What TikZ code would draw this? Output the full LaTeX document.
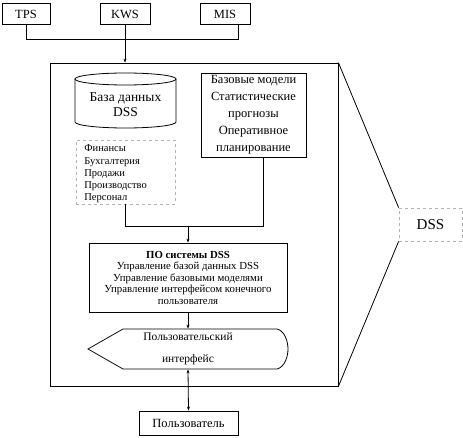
\documentclass[tikz,border=0pt]{standalone}
\usepackage{fontspec}
\setmainfont{Liberation Serif}
\usetikzlibrary{arrows.meta,calc}
\begin{document}
\begin{tikzpicture}[x=1pt,y=1pt,line width=0.8pt,
  box/.style={draw,rectangle,inner sep=0pt,align=center},
  dbox/.style={draw=gray!60,dashed,rectangle,inner sep=0pt},
  arr/.style={-{Stealth[length=4pt,width=3pt]}},
  darr/.style={{Stealth[length=4pt,width=3pt]}-{Stealth[length=4pt,width=3pt]}},
  plain/.style={inner sep=0pt}]
\useasboundingbox (0,0) rectangle (463,-438);
% top boxes
\node[box,minimum width=48pt,minimum height=21pt,font=\fontsize{12.5}{14}\selectfont] (tps) at (26,-14) {TPS};
\node[box,minimum width=50pt,minimum height=21pt,font=\fontsize{12.5}{14}\selectfont] (kws) at (125,-14) {KWS};
\node[box,minimum width=50pt,minimum height=21pt,font=\fontsize{12.5}{14}\selectfont] (mis) at (225,-14) {MIS};
% main box
\node[box,minimum width=288pt,minimum height=323pt] (main) at (194,-224.5) {};
\coordinate (bus) at (125,-39);
\draw (tps.south) |- (bus);
\draw ($(mis.south)+(13,0)$) |- (bus);
\draw[arr] (kws.south) -- (kws.south |- main.north);
% cylinder
\draw (125.5,-79) ellipse[x radius=50.5pt, y radius=6pt];
\draw (75,-79) -- (75,-122) arc[start angle=180,end angle=360,x radius=50.5pt,y radius=6pt] -- (176,-79);
\node[plain,align=center,font=\fontsize{13.5}{15}\selectfont] (db) at (125.5,-105) {База данных\\DSS};
% models box
\node[box,minimum width=105pt,minimum height=84pt,font=\fontsize{12.5}{17}\selectfont] (mod) at (253.5,-115) {Базовые модели\\Статистические\\прогнозы\\Оперативное\\планирование};
% finances dashed box
\node[dbox,minimum width=99pt,minimum height=64pt] (fin) at (125.5,-172) {};
\node[plain,anchor=west,align=left,font=\fontsize{10.5}{12.2}\selectfont] (fintext) at (84,-174) {Финансы\\Бухгалтерия\\Продажи\\Производство\\Персонал};
% PO box
\node[box,minimum width=198pt,minimum height=69pt,font=\fontsize{10.8}{11.5}\selectfont] (po) at (188,-277.5) {\textbf{ПО системы DSS}\\Управление базой данных DSS\\Управление базовыми моделями\\Управление интерфейсом конечного\\пользователя};
\coordinate (j) at (188,-226);
\draw (fin.south) |- (j);
\draw ($(mod.south)+(9.5,0)$) |- (j);
\draw[arr] (j) -- (po.north);
% user interface display shape
\node[plain,minimum width=200pt,minimum height=40pt,align=center,font=\fontsize{11.5}{22}\selectfont] (ui) at (188,-349) {Пользовательский\\интерфейс};
\draw (88,-349) -- (123,-329) -- (277,-329) .. controls (285,-331) and (288,-342) .. (288,-349) .. controls (288,-356) and (285,-367) .. (277,-369) -- (123,-369) -- cycle;
\draw[arr] (po.south) -- (ui.north);
% user box
\node[box,minimum width=99pt,minimum height=24pt,font=\fontsize{12.5}{14}\selectfont] (user) at (188.5,-423) {Пользователь};
\draw[darr] (ui.south) -- (user.north);
% DSS label
\node[dbox,minimum width=63pt,minimum height=33pt,font=\fontsize{15}{17}\selectfont] (dss) at (430.5,-224.5) {DSS};
\draw (main.north east) -- (dss.north west);
\draw (main.south east) -- (dss.south west);
\end{tikzpicture}
\end{document}
